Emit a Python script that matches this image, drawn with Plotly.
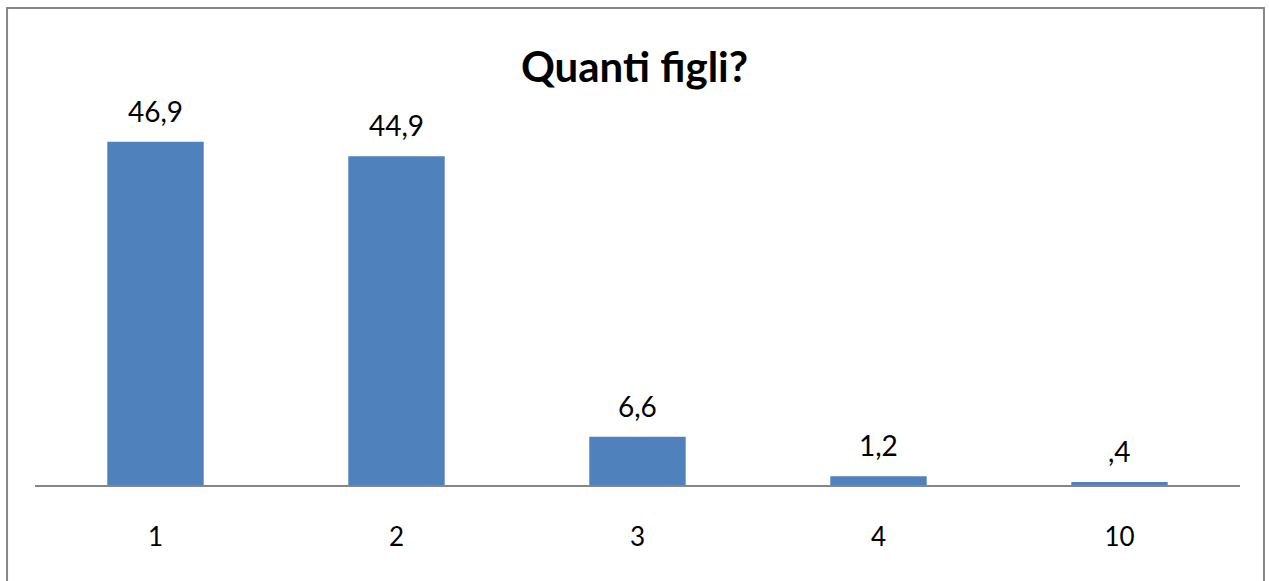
import plotly.graph_objects as go

# Distribution of answers to "Quanti figli?" (percentages)
categories = ["1", "2", "3", "4", "10"]
percent = [46.9, 44.9, 6.6, 1.2, 0.4]


def fmt(v):
    s = f"{v:.1f}".replace(".", ",")
    return s[1:] if s.startswith("0,") else s


labels = [fmt(v) for v in percent]

FONT = "Lato, Calibri, Arial, sans-serif"

fig = go.Figure(
    go.Bar(
        x=categories,
        y=percent,
        marker=dict(color="#4F81BD", line=dict(width=0)),
        hoverinfo="skip",
    )
)

# value labels above each bar (category axis positions are indices)
for i, (v, t) in enumerate(zip(percent, labels)):
    fig.add_annotation(
        x=i, y=v, text=t, showarrow=False,
        xanchor="center", yanchor="bottom", yshift=12,
        font=dict(family=FONT, size=28, color="#000000"),
    )

# outer frame of the chart area
fig.add_shape(
    type="rect", xref="paper", yref="paper",
    x0=-0.0232, x1=1.0199, y0=-0.28, y1=1.3033,
    line=dict(color="#878787", width=2), fillcolor="rgba(0,0,0,0)",
    layer="below",
)

fig.update_layout(
    width=1269, height=581,
    margin=dict(l=35, r=29, t=119, b=96),
    paper_bgcolor="white", plot_bgcolor="white",
    bargap=0.6,
    showlegend=False,
    title=dict(
        text="<b>Quanti figli?</b>",
        x=0.5, xanchor="center", y=0.885, yanchor="middle",
        font=dict(family=FONT, size=42, color="#000000"),
    ),
    xaxis=dict(
        type="category",
        showline=True, linecolor="#868686", linewidth=2,
        ticks="", showgrid=False, zeroline=False,
        tickfont=dict(family=FONT, size=26, color="#000000"),
        ticklabelstandoff=28,
    ),
    yaxis=dict(
        range=[0, 50], visible=False, showgrid=False, zeroline=False,
    ),
)

fig.write_html("out.html")
